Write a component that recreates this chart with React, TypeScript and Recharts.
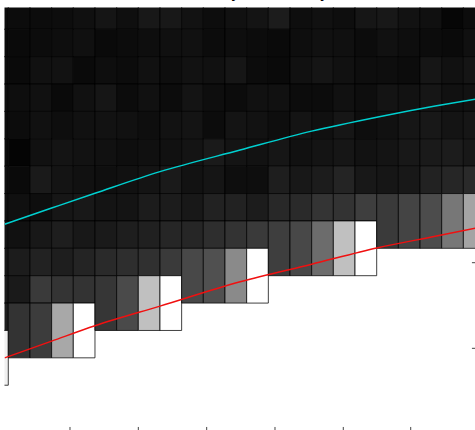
import React from "react";
import { ComposedChart, Line, XAxis, YAxis, ReferenceArea, ReferenceLine } from "recharts";

// cell columns, left to right (column -1 is only partly inside the frame)
const columns = [-1, 0, 1, 2, 3, 4, 5, 6, 7, 8, 9, 10, 11, 12, 13, 14, 15, 16, 17, 18, 19, 20, 21];

// row where each column's last (double height) cell starts
const stepRow = [12, 11, 11, 11, 11, 10, 10, 10, 10, 9, 9, 9, 9, 8, 8, 8, 8, 8, 7, 7, 7, 7, 7];

// grey level (0-255) of every cell, one row per line, top to bottom
const r0 = [12, 12, 12, 13, 16, 21, 15, 24, 24, 18, 13, 17, 20, 28, 14, 17, 14, 22, 24, 18, 16, 6, 12];
const r1 = [10, 10, 12, 14, 16, 10, 12, 14, 16, 17, 12, 14, 12, 10, 14, 17, 16, 12, 17, 14, 12, 10, 16];
const r2 = [12, 10, 17, 18, 10, 14, 12, 17, 14, 18, 17, 22, 12, 10, 17, 21, 17, 14, 14, 12, 22, 17, 21];
const r3 = [14, 14, 17, 10, 17, 22, 12, 17, 12, 20, 14, 12, 17, 17, 12, 12, 17, 14, 20, 18, 22, 17, 18];
const r4 = [12, 12, 17, 14, 17, 18, 17, 14, 18, 20, 12, 20, 18, 14, 20, 16, 22, 14, 17, 22, 24, 20, 22];
const r5 = [10, 4, 17, 20, 18, 17, 14, 16, 17, 20, 26, 20, 18, 22, 17, 20, 22, 18, 20, 24, 26, 28, 24];
const r6 = [14, 10, 26, 20, 17, 15, 17, 20, 26, 18, 21, 14, 14, 30, 24, 28, 36, 24, 22, 24, 34, 38, 42];
const r7 = [16, 16, 14, 22, 24, 20, 20, 28, 28, 24, 34, 34, 28, 40, 42, 52, 51, 62, 58, 68, 76, 119, 164];
const r8 = [18, 17, 24, 30, 24, 26, 30, 32, 38, 38, 46, 51, 58, 62, 72, 108, 192, 255];
const r9 = [22, 28, 34, 30, 36, 42, 46, 48, 58, 72, 80, 138, 255];
const r10 = [26, 26, 58, 52, 51, 54, 74, 192, 255];
const r11 = [30, 51, 60, 168, 255];
const r12 = [240];
const greyRows = [r0, r1, r2, r3, r4, r5, r6, r7, r8, r9, r10, r11, r12];

// the two curves
const curveX = [-0.17, 2, 4, 7, 10.7, 14, 17.06, 19.7, 21.7];
const cyanY = [8.12, 7.53, 6.99, 6.2, 5.41, 4.72, 4.2, 3.8, 3.53];
const redY = [13.0, 12.39, 11.83, 11.11, 10.22, 9.58, 8.98, 8.56, 8.24];

const xTicks = [2.847, 6.0, 9.155, 12.307, 15.459, 18.57];
const yTicks = [9.525, 12.652];

const xDomain = [-0.175, 21.675];
const yDomain = [0.2045, 15.745];

const curveData = curveX.map((x, i) => ({ x, cyan: cyanY[i], red: redY[i] }));

const cells: { x1: number; x2: number; y1: number; y2: number; g: number }[] = [];
columns.forEach((c, ci) => {
  for (let r = 0; r <= stepRow[ci]; r++) {
    const g = greyRows[r][ci];
    cells.push({ x1: c, x2: c + 1, y1: r, y2: r === stepRow[ci] ? r + 2 : r + 1, g });
  }
});

export default function App() {
  return (
    <div
      style={{
        position: "fixed",
        left: 0,
        top: 0,
        width: 475,
        height: 430,
        overflow: "hidden",
        background: "#fff",
      }}
    >
      <div
        style={{
          position: "absolute",
          left: 172,
          top: -18.2,
          fontFamily: "Liberation Sans, Arial, sans-serif",
          fontSize: 16.5,
          lineHeight: "20px",
          color: "#000",
          whiteSpace: "nowrap",
        }}
      >
        Accuracy, uncertainty
      </div>
      <ComposedChart
        width={500}
        height={460}
        data={curveData}
        margin={{ top: 7.5, right: 22, bottom: 27, left: 4.5 }}
      >
        <XAxis
          xAxisId="b"
          dataKey="x"
          type="number"
          domain={xDomain}
          allowDataOverflow
          hide
        />
        <XAxis
          xAxisId="t"
          orientation="top"
          type="number"
          domain={xDomain}
          allowDataOverflow
          height={0}
          tick={false}
          axisLine={{ stroke: "#808080" }}
        />
        <YAxis
          yAxisId="l"
          type="number"
          reversed
          domain={yDomain}
          allowDataOverflow
          width={0}
          tick={false}
          axisLine={{ stroke: "#808080" }}
        />
        {cells.map((c, i) => (
          <ReferenceArea
            key={i}
            xAxisId="b"
            yAxisId="l"
            x1={c.x1}
            x2={c.x2}
            y1={c.y1}
            y2={c.y2}
            ifOverflow="hidden"
            fill={`rgb(${c.g},${c.g},${c.g})`}
            fillOpacity={1}
            stroke="#000"
            strokeOpacity={0.75}
            strokeWidth={1}
          />
        ))}
        {xTicks.map((t) => (
          <ReferenceLine
            key={"x" + t}
            xAxisId="b"
            yAxisId="l"
            segment={[
              { x: t, y: yDomain[1] },
              { x: t, y: yDomain[1] - 0.22 },
            ]}
            stroke="#444"
            strokeWidth={1}
          />
        ))}
        {yTicks.map((t) => (
          <ReferenceLine
            key={"y" + t}
            xAxisId="b"
            yAxisId="l"
            segment={[
              { x: xDomain[1], y: t },
              { x: xDomain[1] - 0.28, y: t },
            ]}
            stroke="#444"
            strokeWidth={1}
          />
        ))}
        <Line
          xAxisId="b"
          yAxisId="l"
          dataKey="cyan"
          type="monotone"
          stroke="#00d0d0"
          strokeWidth={1.5}
          dot={false}
          isAnimationActive={false}
        />
        <Line
          xAxisId="b"
          yAxisId="l"
          dataKey="red"
          type="monotone"
          stroke="#f01010"
          strokeWidth={1.5}
          dot={false}
          isAnimationActive={false}
        />
      </ComposedChart>
    </div>
  );
}
